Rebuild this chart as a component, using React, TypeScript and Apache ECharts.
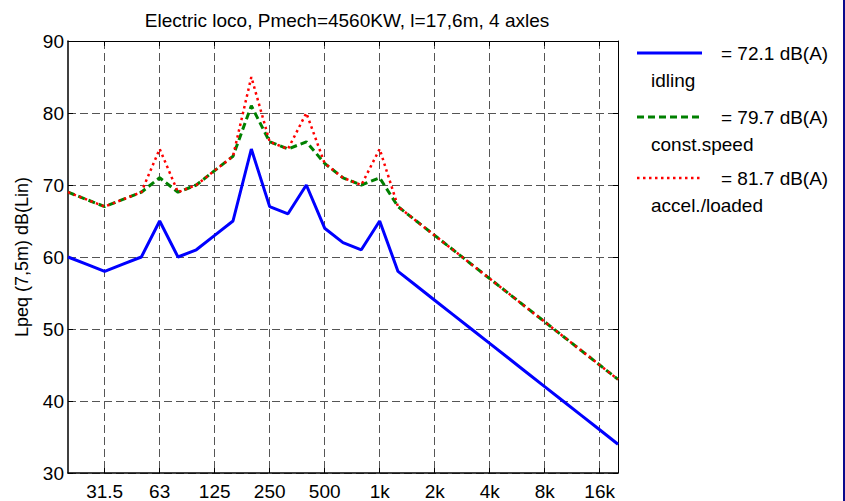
import React, { useEffect, useRef } from "react";
import * as echarts from "echarts";

const bands = ["20","25","31.5","40","50","63","80","100","125","160","200","250","315","400","500","630","800","1k","1.25k","1.6k","2k","2.5k","3.15k","4k","5k","6.3k","8k","10k","12.5k","16k","20k"];
const tickLabels = ["31.5","63","125","250","500","1k","2k","4k","8k","16k"];
const idling = [60,59,58,59,60,65,60,61,63,65,75,67,66,70,64,62,61,65,58,56,54,52,50,48,46,44,42,40,38,36,34];
const constSpeed = [69,68,67,68,69,71,69,70,72,74,81,76,75,76,73,71,70,71,67,65,63,61,59,57,55,53,51,49,47,45,43];
const accelLoaded = [69,68,67,68,69,75,69,70,72,74,85,76,75,80,73,71,70,75,67,65,63,61,59,57,55,53,51,49,47,45,43];
const seriesNames = ["idling", "const.speed", "accel./loaded"];
const seriesTotals = ["= 72.1 dB(A)", "= 79.7 dB(A)", "= 81.7 dB(A)"];
const title = "Electric loco, Pmech=4560KW, l=17,6m, 4 axles";
const yName = "Lpeq (7,5m) dB(Lin)";

const FONT = "Arial, 'Liberation Sans', sans-serif";
const FS = 19;

export default function App() {
  const ref = useRef<HTMLDivElement>(null);
  useEffect(() => {
    document.documentElement.style.overflow = "hidden";
    document.body.style.overflow = "hidden";
    document.body.style.margin = "0";
    const chart = echarts.init(ref.current!, null, { renderer: "svg" });
    const isTick = (_i: number, v: string) => tickLabels.includes(v);
    const colors = ["#0000ff", "#008000", "#ff0000"];
    const widths = [3, 3, 2.5];
    const dashes: any[] = ["solid", [7, 4], [2.5, 3.5]];
    const datas = [idling, constSpeed, accelLoaded];
    const legendY = [53, 117, 178];
    const graphics: any[] = [];
    legendY.forEach((y, i) => {
      graphics.push({
        type: "line",
        shape: { x1: 637, y1: y, x2: 702, y2: y },
        style: { stroke: colors[i], lineWidth: widths[i], lineDash: dashes[i] === "solid" ? null : dashes[i] },
      });
      graphics.push({
        type: "text",
        x: 721,
        y: y,
        style: { text: seriesTotals[i], font: `${FS}px ${FONT}`, fill: "#000", textVerticalAlign: "middle" },
      });
      graphics.push({
        type: "text",
        x: 651,
        y: y + 27,
        style: { text: seriesNames[i], font: `${FS}px ${FONT}`, fill: "#000", textVerticalAlign: "middle" },
      });
    });
    graphics.push({
      type: "rect",
      shape: { x: 843, y: 0, width: 2, height: 501 },
      style: { fill: "#0a0a8c" },
    });
    const gridLine = { show: true, lineStyle: { color: "#555", type: [8, 4], width: 1 } };
    chart.setOption({
      animation: false,
      backgroundColor: "#fff",
      title: {
        text: title,
        left: 342,
        textAlign: "center",
        top: 6,
        textStyle: { fontFamily: FONT, fontSize: FS, fontWeight: "normal", color: "#000" },
      },
      grid: { left: 68, right: 227, top: 41, bottom: 28, containLabel: false },
      xAxis: [
        {
          type: "category",
          data: bands,
          boundaryGap: false,
          axisLine: { onZero: false, lineStyle: { color: "#000", width: 1.5 } },
          axisTick: { inside: true, length: 5, interval: isTick, lineStyle: { color: "#000" } },
          axisLabel: { interval: isTick, color: "#000", fontFamily: FONT, fontSize: FS, margin: 9 },
          splitLine: { ...gridLine, interval: isTick },
        },
        {
          type: "category",
          data: bands,
          position: "top",
          boundaryGap: false,
          axisLine: { onZero: false, lineStyle: { color: "#000", width: 1 } },
          axisTick: { inside: true, length: 5, interval: isTick, lineStyle: { color: "#000" } },
          axisLabel: { show: false },
          splitLine: { show: false },
        },
      ],
      yAxis: [
        {
          type: "value",
          min: 30,
          max: 90,
          interval: 10,
          name: yName,
          nameLocation: "middle",
          nameGap: 37,
          nameTextStyle: { fontFamily: FONT, fontSize: 18, color: "#000" },
          axisLine: { show: true, onZero: false, lineStyle: { color: "#000", width: 1.5 } },
          axisTick: { show: true, inside: true, length: 5, lineStyle: { color: "#000" } },
          axisLabel: { color: "#000", fontFamily: FONT, fontSize: FS, margin: 4 },
          splitLine: gridLine,
        },
        {
          type: "value",
          min: 30,
          max: 90,
          interval: 10,
          position: "right",
          axisLine: { show: true, onZero: false, lineStyle: { color: "#000", width: 1 } },
          axisTick: { show: true, inside: true, length: 5, lineStyle: { color: "#000" } },
          axisLabel: { show: false },
          splitLine: { show: false },
        },
      ],
      series: datas.map((d, i) => ({
        type: "line",
        name: seriesNames[i],
        data: d,
        xAxisIndex: 0,
        yAxisIndex: 0,
        symbol: "none",
        lineStyle: { color: colors[i], width: widths[i], type: dashes[i] },
        z: 3 + i,
      })),
      graphic: graphics,
    });
    return () => chart.dispose();
  }, []);
  return <div ref={ref} style={{ position: "fixed", left: 0, top: 0, width: 845, height: 501 }} />;
}
